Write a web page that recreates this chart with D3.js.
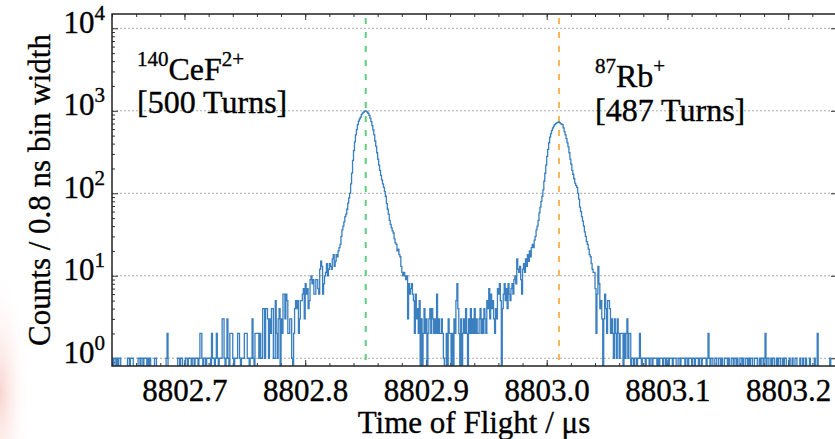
<!DOCTYPE html>
<html>
<head>
<meta charset="utf-8">
<script src="https://cdn.jsdelivr.net/npm/d3@7"></script>
<style>
body{margin:0;background:#fff;}
svg{display:block;font-family:"Liberation Serif","Times New Roman",serif;}
svg text{stroke:#000;stroke-width:0.35px;}
.tick line{stroke:#333;}
.grid line{stroke:#aaa;stroke-dasharray:2,2;}
</style>
</head>
<body>
<script>
//histogram binning (in microseconds)
var binStart = 8802.64,
    binWidth = 0.0008;

//counts per 0.8 ns bin (25 bins per row)
var counts = [
    1,0,1,1,0,1,0,1,1,0,0,0,0,0,0,0,1,1,0,1,1,1,0,0,0,
    0,0,1,1,0,1,1,0,1,1,1,0,1,0,1,0,0,0,0,1,1,0,0,0,0,
    0,0,0,0,0,0,1,2,0,0,0,0,0,0,0,0,0,0,1,1,0,1,1,0,0,
    0,1,1,0,1,1,1,0,1,1,0,1,1,1,0,1,2,2,1,0,1,1,0,1,1,
    1,1,0,2,1,1,0,1,2,1,0,1,1,1,3,3,1,0,1,3,1,0,2,2,2,
    1,0,1,1,1,2,2,1,0,1,1,1,2,2,2,1,1,0,1,1,3,1,0,2,2,
    2,2,1,2,1,1,4,4,1,4,4,3,1,3,2,4,4,1,1,5,2,1,3,4,0,
    3,2,6,6,3,6,5,2,2,3,3,1,0,2,4,5,4,5,2,3,5,5,6,7,3,
    8,6,7,4,5,9,10,8,9,6,6,9,9,7,6,12,15,13,6,8,10,11,14,10,12,
    14,13,12,16,18,13,15,18,17,20,22,24,30,36,40,45,52,56,64,76,88,100,130,176,250,
    330,420,510,590,680,750,800,840,900,935,960,990,1000,985,960,930,880,810,740,660,585,510,430,370,310,
    260,220,190,165,145,130,118,105,92,75,64,56,47,42,38,35,33,28,25,24,20,21,18,17,13,
    11,10,11,10,9,10,3,8,6,7,8,6,5,2,6,3,4,2,5,0,3,0,2,4,2,
    3,0,2,3,4,2,4,3,2,3,2,6,2,3,2,2,3,2,1,0,0,2,0,3,2,
    2,0,2,0,3,2,5,8,4,2,0,3,0,2,3,2,4,2,0,3,2,4,2,3,2,
    4,2,3,2,2,3,4,2,3,2,4,3,2,5,4,7,3,6,4,5,3,2,4,3,7,
    6,8,5,0,4,6,8,5,7,4,8,6,5,7,8,6,9,10,8,16,12,11,13,9,6,
    12,14,11,16,13,18,15,20,17,22,24,22,27,30,36,40,47,58,68,80,92,110,140,175,220,
    280,340,410,480,530,580,620,650,680,700,715,725,735,720,700,690,680,620,560,510,460,410,365,310,260,
    225,190,170,150,133,125,118,100,85,68,60,52,46,40,34,30,26,24,21,18,17,14,12,11,11,
    7,2,6,13,8,4,5,3,0,3,6,4,2,5,5,4,2,3,2,1,3,2,1,3,2,
    1,2,2,2,0,2,1,2,3,1,2,2,0,1,1,0,1,1,0,1,1,2,1,0,1,
    1,1,0,1,1,1,0,1,1,0,1,1,1,1,0,1,0,1,1,1,0,1,1,0,1,
    1,0,1,1,1,0,1,1,1,0,0,1,1,0,1,1,1,1,0,1,1,0,1,1,1,
    0,1,1,0,1,1,1,0,1,1,0,1,1,1,1,0,1,2,1,0,1,1,0,0,1,
    1,0,0,1,1,0,1,0,0,1,1,1,0,1,0,0,1,1,0,1,1,0,1,0,0,
    1,1,0,1,0,0,1,1,0,1,0,1,1,0,0,1,1,1,0,0,1,0,1,1,0,
    1,2,0,1,1,0,0,1,0,1,1,0,0,1,0,1,1,0,0,1,0,1,1,0,0,
    0,1,0,0,1,0,0,1,1,0,0,0,1,0,0,1,0,0,1,0,0,0,1,0,0,
    0,0,1,0,0,2,0,0,0,0,0,0,0,0,0,0,0,0,1,0,0,0,0,0,0
];

//axis ticks
var xTicks = [8802.7, 8802.8, 8802.9, 8803.0, 8803.1, 8803.2];
var xMinorTicks = d3.range(8802.64, 8803.25, 0.02);
var yTicks = [1, 10, 100, 1000, 10000];
var yExponents = ["0", "1", "2", "3", "4"];

//reference lines and labels for the two species
var peakCentres = [8802.8501, 8803.0102];
var ionMass = ["140", "87"];
var ionName = ["CeF", "Rb"];
var ionCharge = ["2+", "+"];
var turnLabels = ["[500 Turns]", "[487 Turns]"];

window.onload = setChart();

function setChart(){
    var width = 835,
        height = 439;

    //plot frame; the right spine sits just past the picture edge
    var left = 112, right = 837, top = 14, bottom = 366;

    var svg = d3.select("body")
        .append("svg")
        .attr("width", width)
        .attr("height", height);

    //faint pink glow at the lower left edge
    var defs = svg.append("defs");
    var glow = defs.append("radialGradient")
        .attr("id", "glow")
        .attr("cx", 0).attr("cy", 0.8).attr("r", 0.55);
    glow.append("stop").attr("offset", "0%").attr("stop-color", "#f6c6be").attr("stop-opacity", 0.75);
    glow.append("stop").attr("offset", "100%").attr("stop-color", "#fff").attr("stop-opacity", 0);
    svg.append("rect")
        .attr("x", 0).attr("y", 210)
        .attr("width", 55).attr("height", 229)
        .attr("fill", "url(#glow)");

    defs.append("clipPath")
        .attr("id", "plotClip")
        .append("rect")
        .attr("x", left).attr("y", top)
        .attr("width", right - left).attr("height", bottom - top);

    var x = d3.scaleLinear()
        .domain([8802.64, 8803.2404])
        .range([left, right]);

    var y = d3.scaleLog()
        .domain([0.806, 14900])
        .range([bottom, top]);

    //horizontal gridlines at each decade
    svg.append("g")
        .attr("class", "grid")
        .selectAll("line")
        .data(yTicks)
        .enter()
        .append("line")
        .attr("x1", left).attr("x2", right)
        .attr("y1", function(d){ return y(d); })
        .attr("y2", function(d){ return y(d); });

    //minor log ticks between the decades
    var yMinor = [];
    for (var k = -1; k <= 4; k++){
        for (var m = 2; m <= 9; m++){
            var v = m * Math.pow(10, k);
            if (v > 0.806 && v < 14900) yMinor.push(v);
        }
    }

    //bottom axis
    var xAxis = svg.append("g")
        .attr("transform", "translate(0," + bottom + ")")
        .call(d3.axisBottom(x)
            .tickValues(xTicks)
            .tickFormat(d3.format(".1f"))
            .tickSizeInner(-6)
            .tickSizeOuter(0)
            .tickPadding(13));
    xAxis.selectAll("text")
        .attr("font-size", 31)
        .attr("fill", "#000")
        .attr("font-family", "Liberation Serif");

    svg.append("g")
        .attr("transform", "translate(0," + bottom + ")")
        .call(d3.axisBottom(x).tickValues(xMinorTicks).tickFormat("").tickSizeInner(-3).tickSizeOuter(0));

    //top axis, ticks only
    svg.append("g")
        .attr("transform", "translate(0," + top + ")")
        .call(d3.axisTop(x).tickValues(xTicks).tickFormat("").tickSizeInner(-6).tickSizeOuter(0));
    svg.append("g")
        .attr("transform", "translate(0," + top + ")")
        .call(d3.axisTop(x).tickValues(xMinorTicks).tickFormat("").tickSizeInner(-3).tickSizeOuter(0));

    //left axis with power-of-ten labels
    var yAxis = svg.append("g")
        .attr("transform", "translate(" + left + ",0)")
        .call(d3.axisLeft(y)
            .tickValues(yTicks)
            .tickSizeInner(-6)
            .tickSizeOuter(0)
            .tickPadding(7));
    yAxis.selectAll("text")
        .text("")
        .attr("fill", "#000")
        .attr("font-family", "Liberation Serif")
        .attr("dy", "0.4em")
        .each(function(d, i){
            var t = d3.select(this);
            t.append("tspan").attr("font-size", 31).text("10");
            t.append("tspan").attr("font-size", 21).attr("dy", -13).text(yExponents[i]);
        });

    svg.append("g")
        .attr("transform", "translate(" + left + ",0)")
        .call(d3.axisLeft(y).tickValues(yMinor).tickFormat("").tickSizeInner(-3).tickSizeOuter(0));

    //right axis, ticks only
    svg.append("g")
        .attr("transform", "translate(" + right + ",0)")
        .call(d3.axisRight(y).tickValues(yTicks).tickFormat("").tickSizeInner(-6).tickSizeOuter(0));

    svg.selectAll(".domain").remove();

    //dashed lines at the peak centres
    var markColours = ["#5ccf7b", "#fbb552"];
    svg.append("g")
        .selectAll("line")
        .data(peakCentres)
        .enter()
        .append("line")
        .attr("x1", function(d){ return x(d); })
        .attr("x2", function(d){ return x(d); })
        .attr("y1", top + 4)
        .attr("y2", bottom)
        .attr("stroke", function(d, i){ return markColours[i]; })
        .attr("stroke-width", 2)
        .attr("stroke-dasharray", "6,8");

    //step outline of the histogram; empty bins fall below the axis
    var pts = counts.map(function(c, i){
        return [binStart + i * binWidth, c];
    });
    pts.push([binStart + counts.length * binWidth, counts[counts.length - 1]]);

    var step = d3.line()
        .x(function(d){ return x(d[0]); })
        .y(function(d){ return d[1] > 0 ? y(d[1]) : bottom + 10; })
        .curve(d3.curveStepAfter);

    svg.append("path")
        .datum(pts)
        .attr("clip-path", "url(#plotClip)")
        .attr("fill", "none")
        .attr("stroke", "#3a7fc0")
        .attr("stroke-width", 1.3)
        .attr("d", step);

    //plot frame
    svg.append("rect")
        .attr("x", left).attr("y", top)
        .attr("width", right - left).attr("height", bottom - top)
        .attr("fill", "none")
        .attr("stroke", "#222")
        .attr("stroke-width", 1.5);

    //species labels
    var labelPos = [[137, 80, 113], [595, 87, 121]];
    peakCentres.forEach(function(p, i){
        var t = svg.append("text")
            .attr("x", labelPos[i][0])
            .attr("y", labelPos[i][1])
            .attr("font-size", 32);
        t.append("tspan").attr("font-size", 21).attr("dy", -14).text(ionMass[i]);
        t.append("tspan").attr("dy", 14).text(ionName[i]);
        t.append("tspan").attr("font-size", 21).attr("dy", -14).text(ionCharge[i]);

        svg.append("text")
            .attr("x", labelPos[i][0])
            .attr("y", labelPos[i][2])
            .attr("font-size", 32)
            .text(turnLabels[i]);
    });

    //axis titles
    svg.append("text")
        .attr("x", 474)
        .attr("y", 433)
        .attr("text-anchor", "middle")
        .attr("font-size", 31)
        .text("Time of Flight / μs");

    svg.append("text")
        .attr("transform", "translate(50," + ((top + bottom) / 2) + ") rotate(-90)")
        .attr("text-anchor", "middle")
        .attr("font-size", 31)
        .text("Counts / 0.8 ns bin width");
};
</script>
</body>
</html>
